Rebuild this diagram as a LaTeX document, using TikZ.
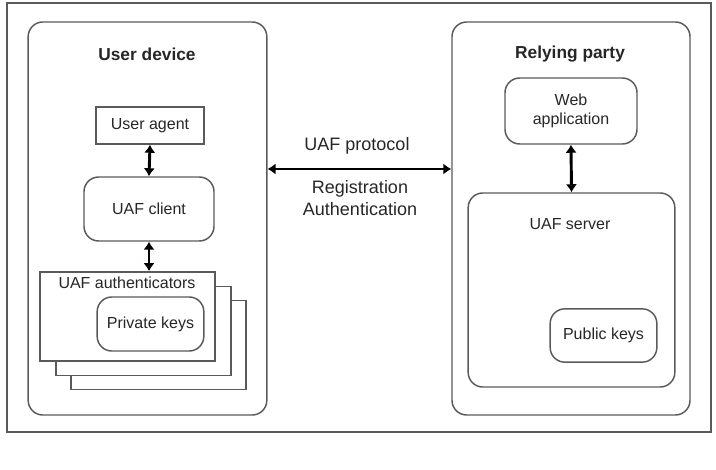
\documentclass[tikz,border=0pt]{standalone}
\usepackage{fontspec}
\setmainfont{Liberation Sans}
\usetikzlibrary{arrows.meta}
\definecolor{edge}{HTML}{5A5A5A}
\begin{document}
\begin{tikzpicture}[x=0.75pt,y=-0.75pt,
  box/.style={draw=edge,line width=1.1pt,minimum width=#1},
  rbox/.style={box=#1,rounded corners=11pt},
  lbl/.style={font=\fontsize{12}{14}\selectfont,text=black!85},
  ttl/.style={font=\fontsize{13}{15}\selectfont\bfseries,text=black!85},
  link/.style={line width=2.2pt,{Latex[length=6pt,width=8.5pt]}-{Latex[length=6pt,width=8.5pt]}}]
\useasboundingbox (0,0) rectangle (716,470);
\draw[edge,line width=1.1pt] (7,3) rectangle (711,432);
% user device
\node[rbox=179pt,minimum height=294.75pt] (dev) at (147.5,218.5) {};
\node[ttl] (devt) at (147,54) {User device};
\node[box=81pt,minimum height=27.75pt,lbl] (agent) at (150,125.5) {User agent};
\node[rbox=97.5pt,minimum height=48pt,lbl] (client) at (149,209) {UAF client};
\node[box=131pt,minimum height=67pt,fill=white] (auth3) at (158.5,345) {};
\node[box=131pt,minimum height=67pt,fill=white] (auth2) at (143.5,331) {};
\node[box=131pt,minimum height=67pt,fill=white] (auth) at (127.5,316.5) {};
\node[lbl] (autht) at (127,283) {UAF authenticators};
\node[rbox=80pt,minimum height=40.5pt,lbl] (priv) at (150.5,324) {Private keys};
\draw[link] (agent.south) -- (client.north);
\draw[link] (client.south) -- (client.south |- auth.north);
% relying party
\node[rbox=178.5pt,minimum height=294.75pt] (rp) at (571,218.5) {};
\node[ttl] (rpt) at (570,54) {Relying party};
\node[rbox=99pt,minimum height=49.5pt,lbl,align=center] (web) at (571,111) {Web\\application};
\node[rbox=155pt,minimum height=145.5pt] (server) at (571.5,290) {};
\node[lbl] (servt) at (570,224) {UAF server};
\node[rbox=80pt,minimum height=40pt,lbl] (pub) at (603.5,335.5) {Public keys};
\draw[link] (web.south) -- (server.north);
% protocol
\coordinate (mid) at (358,169);
\draw[link] (mid -| dev.east) -- (mid -| rp.west);
\node[lbl,font=\fontsize{13.5}{16}\selectfont] (proto) at (357,146) {UAF protocol};
\node[lbl,font=\fontsize{13.5}{16}\selectfont,align=center] (ops) at (360,198) {Registration\\Authentication};
\end{tikzpicture}
\end{document}
